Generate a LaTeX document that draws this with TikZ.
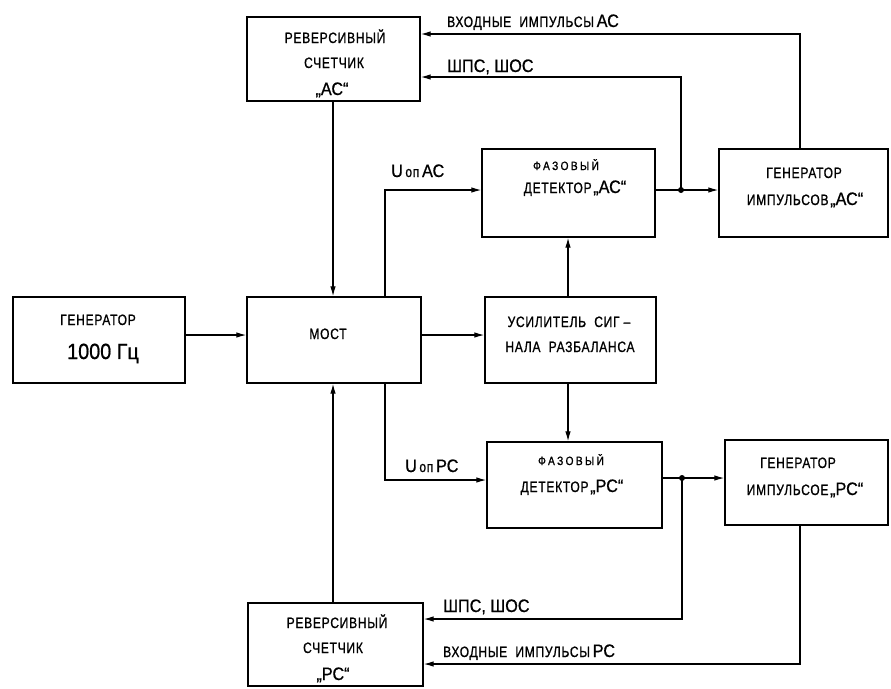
\documentclass[tikz,border=0pt]{standalone}
\usepackage{fontspec}
\setmainfont{Liberation Sans}
\newfontfamily\spfont{Liberation Sans}[FakeStretch=0.8,LetterSpace=5,FakeBold=1]
\newfontfamily\spwfont{Liberation Sans}[FakeStretch=0.85,LetterSpace=20,FakeBold=1]
\newfontfamily\lgfont{Liberation Sans}[FakeStretch=0.9,FakeBold=0.8]
\usetikzlibrary{arrows.meta}
\newcommand\fsm{\spfont\fontsize{15}{17}\selectfont}
\newcommand\fxs{\spwfont\fontsize{12}{14}\selectfont}
\newcommand\flg{\lgfont\fontsize{18}{20}\selectfont}
\newcommand\fxl{\lgfont\fontsize{22}{24}\selectfont}
\begin{document}
\begin{tikzpicture}[x=1pt,y=-1pt,
  blk/.style={draw,line width=1.3pt,inner sep=0pt},
  wire/.style={line width=1.2pt},
  arr/.style={wire,-{Latex[length=10pt,width=5.5pt]}},
  jdot/.style={circle,fill,inner sep=0pt,minimum size=6pt},
  txt/.style={inner sep=0pt,anchor=base},
  txtw/.style={inner sep=0pt,anchor=base west}]
\useasboundingbox (0,0) rectangle (891,688);

% boxes
\node[blk,minimum width=173pt,minimum height=84pt] (revac) at (333.5,59) {};
\node[blk,minimum width=173pt,minimum height=88pt] (pdac) at (568.5,193) {};
\node[blk,minimum width=169pt,minimum height=88pt] (genac) at (803.5,193) {};
\node[blk,minimum width=172pt,minimum height=86pt] (gen1k) at (99,340) {};
\node[blk,minimum width=174pt,minimum height=86pt] (most) at (334,340) {};
\node[blk,minimum width=171pt,minimum height=86pt] (amp) at (570.5,340) {};
\node[blk,minimum width=175pt,minimum height=86pt] (pdpc) at (574.5,485) {};
\node[blk,minimum width=163pt,minimum height=85pt] (genpc) at (806.5,482.5) {};
\node[blk,minimum width=175pt,minimum height=83pt] (revpc) at (335.5,644.5) {};

% box texts
\node[txt,font=\fsm] (revac1) at (335,43) {РЕВЕРСИВНЫЙ};
\node[txt,font=\fsm] (revac2) at (334,68) {СЧЕТЧИК};
\node[txt,font=\flg] (revac3) at (332,95) {„АС“};

\node[txt,font=\fxs] (pdac1) at (566,170) {ФАЗОВЫЙ};
\node[txt] (pdac2) at (575,193) {{\fsm ДЕТЕКТОР}\,{\flg„АС“}};

\node[txt,font=\fsm] (genac1) at (804,178) {ГЕНЕРАТОР};
\node[txt] (genac2) at (805,205) {{\fsm ИМПУЛЬСОВ}\,{\flg„АС“}};

\node[txt,font=\fsm] (gen1k1) at (98,325) {ГЕНЕРАТОР};
\node[txt,font=\fxl] (gen1k2) at (103,359) {1000 Гц};

\node[txt,font=\fsm] (most1) at (328,339) {МОСТ};

\node[txt,font=\fsm] (amp1) at (569,327) {УСИЛИТЕЛЬ \ СИГ –};
\node[txt,font=\fsm] (amp2) at (570,352) {НАЛА \ РАЗБАЛАНСА};

\node[txt,font=\fxs] (pdpc1) at (571,465) {ФАЗОВЫЙ};
\node[txt] (pdpc2) at (572,492) {{\fsm ДЕТЕКТОР}\,{\flg„РС“}};

\node[txt,font=\fsm] (genpc1) at (798,468) {ГЕНЕРАТОР};
\node[txt] (genpc2) at (805,495) {{\fsm ИМПУЛЬСОЕ}\,{\flg„РС“}};

\node[txt,font=\fsm] (revpc1) at (337,628) {РЕВЕРСИВНЫЙ};
\node[txt,font=\fsm] (revpc2) at (333,653) {СЧЕТЧИК};
\node[txt,font=\flg] (revpc3) at (333,680) {„РС“};

% connector labels
\node[txtw] (lin1) at (447,27) {{\fsm ВХОДНЫЕ \ ИМПУЛЬСЫ} {\flg АС}};
\node[txtw,font=\flg] (lsh1) at (447,72) {ШПС, ШОС};
\node[txtw] (luac) at (391,177) {{\flg U}{\fsm\,оп}\ {\flg АС}};
\node[txtw] (lupc) at (405,472) {{\flg U}{\fsm\,оп}\ {\flg РС}};
\node[txtw,font=\flg] (lsh2) at (443,612) {ШПС, ШОС};
\node[txtw] (lin2) at (443,657) {{\fsm ВХОДНЫЕ \ ИМПУЛЬСЫ} {\flg РС}};

% connectors
\coordinate (k1) at (800,34);
\draw[arr] (genac.north -| k1) -- (k1) -- (revac.east |- k1);
\node[jdot] (jac) at (681,190) {};
\coordinate (k2) at (681,77);
\draw[arr] (pdac.east |- jac) -- (genac.west |- jac);
\draw[arr] (jac.center) -- (k2) -- (revac.east |- k2);
\coordinate (k3) at (333,0);
\draw[arr] (revac.south -| k3) -- (most.north -| k3);
\coordinate (k4) at (385,190);
\draw[arr] (most.north -| k4) -- (k4) -- (pdac.west |- k4);
\coordinate (k5) at (0,335);
\draw[arr] (gen1k.east |- k5) -- (most.west |- k5);
\draw[arr] (most.east |- k5) -- (amp.west |- k5);
\coordinate (k6) at (568,0);
\draw[arr] (amp.north -| k6) -- (pdac.south -| k6);
\draw[arr] (amp.south -| k6) -- (pdpc.north -| k6);
\coordinate (k7) at (385,480);
\draw[arr] (most.south -| k7) -- (k7) -- (pdpc.west |- k7);
\node[jdot] (jpc) at (682,478) {};
\draw[arr] (pdpc.east |- jpc) -- (genpc.west |- jpc);
\coordinate (k8) at (682,619);
\draw[arr] (jpc.center) -- (k8) -- (revpc.east |- k8);
\coordinate (k9) at (800,664);
\draw[arr] (genpc.south -| k9) -- (k9) -- (revpc.east |- k9);
\draw[arr] (revpc.north -| k3) -- (most.south -| k3);
\end{tikzpicture}
\end{document}
